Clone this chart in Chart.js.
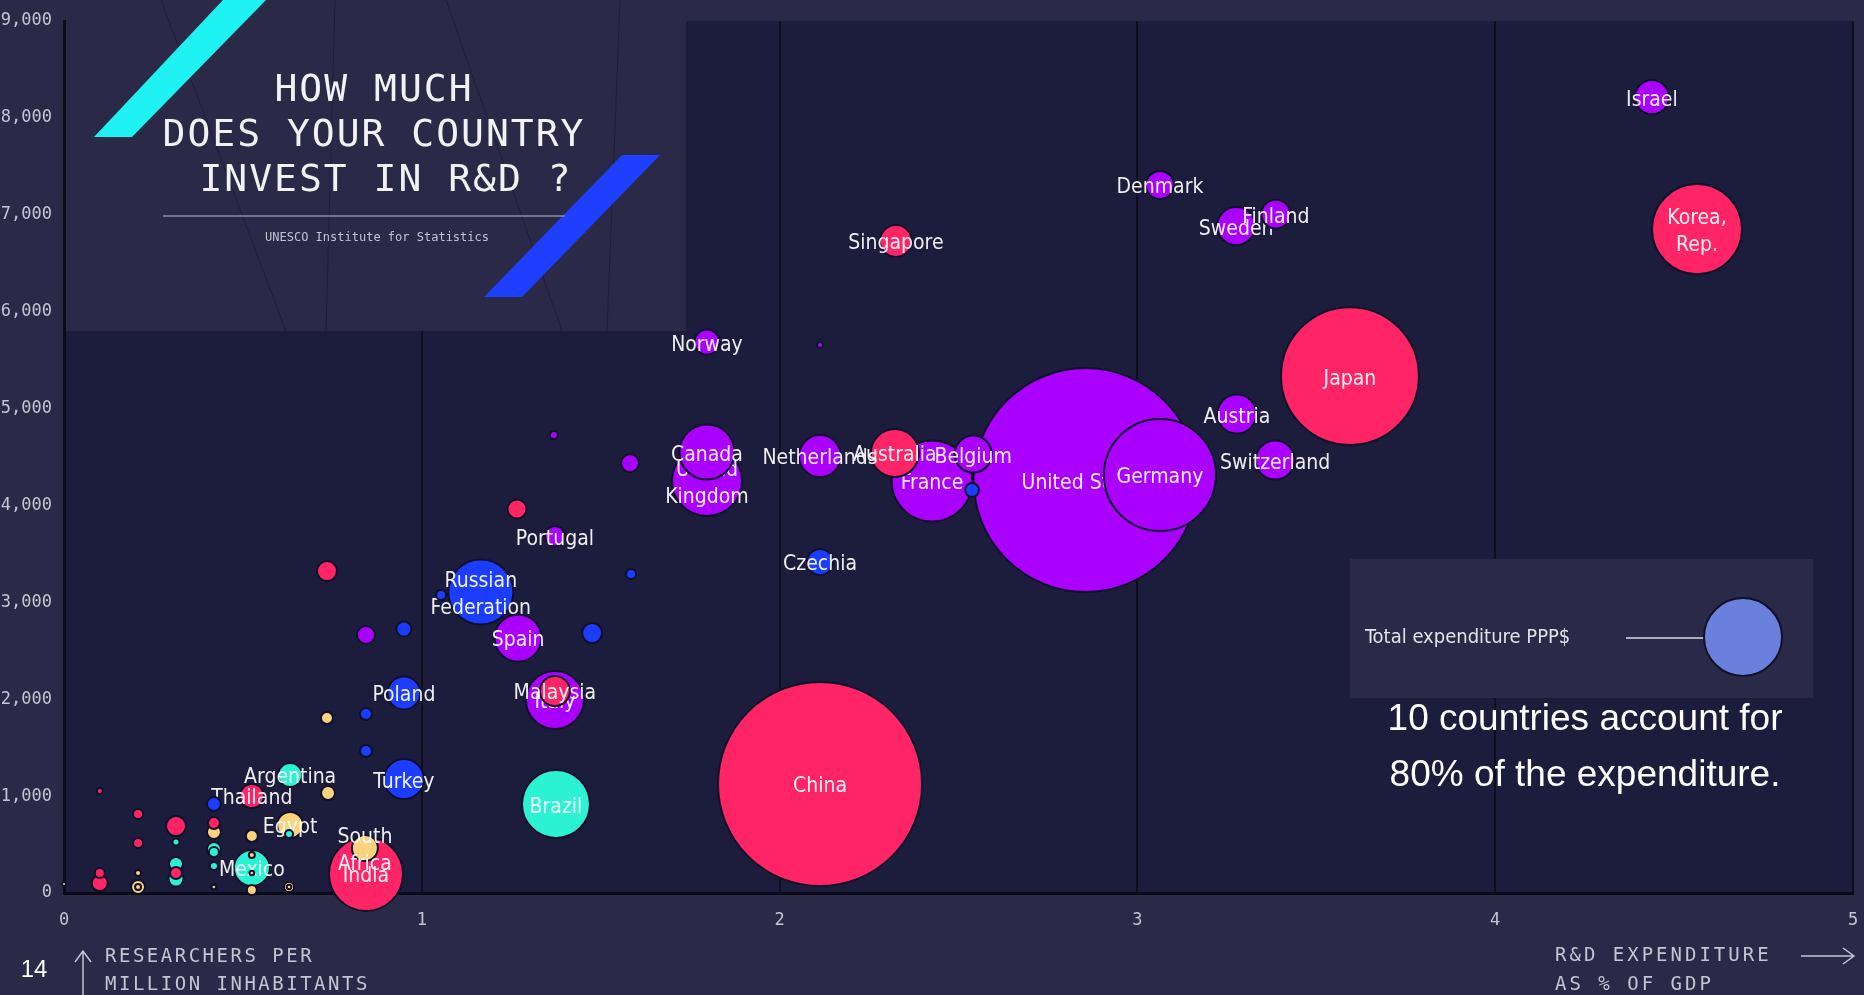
<!DOCTYPE html>
<html>
<head>
<meta charset="utf-8">
<script src="https://cdn.jsdelivr.net/npm/chart.js@4.4.1/dist/chart.umd.min.js"></script>
<style>
  html, body { margin: 0; padding: 0; background: #2a2a48; }
  #wrap { width: 1864px; height: 995px; }
</style>
</head>
<body>
<div id="wrap"><canvas id="rdChart" width="1864" height="995"></canvas></div>
<script>
// one entry per bubble; '' = unlabelled country
const countries = [
  'United States', 'China', 'Japan', 'Germany', 'Korea, Rep.', 'France', 'India', 'United Kingdom',
  'Brazil', 'Russian Federation', 'Italy', 'Canada', 'Australia', 'Spain', 'Netherlands', 'Turkey',
  'Austria', 'Switzerland', 'Sweden', 'Belgium', 'Mexico', 'Israel', 'Poland', 'Singapore',
  'Malaysia', 'Finland', 'Denmark', 'South Africa', 'Egypt', 'Czechia', 'Norway', 'Argentina',
  'Thailand', 'Portugal',
  '', '', '', '', '', '', '', '', '', '', '', '', '', '', '', '',
  '', '', '', '', '', '', '', '', '', '', '', '', '', '', '', '',
  '', '', '', '', '', '', '', '', '', '', ''
];
// R&D expenditure as % of GDP
const gdpShare = [
  2.855, 2.113, 3.594, 3.063, 4.564, 2.426, 0.844, 1.797,
  1.375, 1.165, 1.372, 1.797, 2.322, 1.269, 2.113, 0.950,
  3.278, 3.385, 3.276, 2.541, 0.525, 4.438, 0.950, 2.325,
  1.372, 3.387, 3.063, 0.841, 0.632, 2.113, 1.797, 0.632,
  0.525, 1.372,
  1.266, 0.735, 1.582, 1.369, 2.113, 0.844, 1.585, 1.054, 1.476, 0.950, 2.538, 0.844, 0.844, 0.419, 0.735, 0.738,
  0.100, 0.207, 0.313, 0.419, 0.419, 0.525, 0.629, 0.207, 0.313, 0.419, 0.419, 0.419, 0.313, 0.313, 0.313, 0.100,
  0.100, 0.207, 0.207, 0.207, 0.000, 0.419, 0.525, 0.629, 0.629, 0.525, 0.525, 0.844
];
// researchers per million inhabitants
const researchers = [
  4262, 1125, 5335, 4314, 6852, 4252, 196, 4252,
  918, 3106, 1992, 4551, 4541, 2632, 4510, 1176,
  4943, 4468, 6883, 4530, 258, 8215, 2064, 6729,
  2085, 7007, 7307, 464, 702, 3416, 5686, 1218,
  1001, 3684,
  3963, 3323, 4437, 4726, 5655, 2663, 3292, 3075, 2683, 2724, 4159, 1847, 1465, 918, 1806, 1032,
  1053, 815, 691, 722, 629, 588, 609, 516, 526, 454, 423, 279, 299, 206, 144, 206,
  103, 62, 62, 206, 93, 62, 31, 62, 62, 392, 206, 248
];
// total expenditure, billion PPP$
const spendBn = [
  467, 388, 177, 117, 75.5, 61, 51, 45.7,
  43, 39.4, 31.3, 28.2, 21.5, 20.6, 16.4, 14.9,
  14.2, 14.2, 13.5, 12.8, 12.1, 10.8, 10.1, 9.5,
  8.4, 7.8, 7.3, 6.3, 6.3, 6.3, 5.8, 5.4,
  5.4, 3.7,
  3.4, 3.7, 3.0, 0.6, 0.34, 3.0, 0.93, 0.93, 3.7, 2.1, 1.8, 1.34, 1.34, 1.8, 1.34, 1.8,
  0.34, 0.93, 3.7, 1.34, 1.8, 1.34, 0.6, 0.93, 0.46, 1.8, 0.93, 0.6, 1.8, 1.34, 2.1, 0.93,
  2.4, 1.8, 0.34, 0.34, 0.15, 0.2, 0.93, 0.93, 0.2, 0.34, 0.2, 0.93
];
const regions = [
  'west', 'asia', 'asia', 'west', 'asia', 'west', 'asia', 'west',
  'latam', 'east', 'west', 'west', 'asia', 'west', 'west', 'east',
  'west', 'west', 'west', 'west', 'latam', 'west', 'east', 'asia',
  'asia', 'west', 'west', 'africa', 'africa', 'east', 'west', 'latam',
  'asia', 'west',
  'asia', 'asia', 'west', 'west', 'west', 'west', 'east', 'east', 'east', 'east', 'east', 'east', 'east', 'east', 'africa', 'africa',
  'asia', 'asia', 'asia', 'asia', 'africa', 'africa', 'latam', 'asia', 'latam', 'latam', 'latam', 'latam', 'latam', 'asia', 'latam', 'asia',
  'asia', 'africa', 'africa', 'africa', 'africa', 'africa', 'africa', 'africa', 'africa', 'africa', 'africa', 'africa'
];
const xTicks = [0, 1, 2, 3, 4, 5];
const yTicks = [0, 1000, 2000, 3000, 4000, 5000, 6000, 7000, 8000, 9000];

const regionColors = {
  asia: '#ff2466',
  west: '#a900ff',
  east: '#1c3cff',
  latam: '#2af2d2',
  africa: '#ffd27e'
};
const splitNames = {
  'Russian Federation': ['Russian', 'Federation'],
  'United Kingdom': ['United', 'Kingdom'],
  'Korea, Rep.': ['Korea,', 'Rep.'],
  'South Africa': ['South', 'Africa']
};
const SIZE_K = 5.18; // px radius per sqrt(billion)
const LABEL_FONT = '21px "DejaVu Sans Condensed", "DejaVu Sans", sans-serif';
const MONO = '"DejaVu Sans Mono", monospace';

// biggest drawn first, each label right after its bubble
const drawOrder = countries.map((_, i) => i).sort((a, b) => spendBn[a] - spendBn[b]);
const datasets = drawOrder.map(i => ({
  label: countries[i],
  data: [{ x: gdpShare[i], y: researchers[i], r: Math.sqrt(spendBn[i]) * SIZE_K }],
  backgroundColor: regionColors[regions[i]],
  borderColor: '#10102a',
  borderWidth: 2,
  hoverRadius: 0,
  clip: false
}));

const backdrop = {
  id: 'backdrop',
  beforeDraw(chart) {
    const { ctx, chartArea: a } = chart;
    ctx.save();
    ctx.fillStyle = '#2a2a48';
    ctx.fillRect(0, 0, chart.width, chart.height);
    ctx.fillStyle = '#1c1c3c';
    ctx.fillRect(a.left, a.top, a.right - a.left, a.bottom - a.top);
    ctx.restore();
  },
  beforeDatasetsDraw(chart) {
    const ctx = chart.ctx;
    ctx.save();
    // title panel
    ctx.fillStyle = '#2a2a48';
    ctx.fillRect(66, 0, 620, 331);
    ctx.strokeStyle = 'rgba(12,12,34,0.35)';
    ctx.lineWidth = 1;
    [[161, 286], [335, 326], [446, 562], [620, 607]].forEach(([x0, x1]) => {
      ctx.beginPath(); ctx.moveTo(x0, 0); ctx.lineTo(x1, 331); ctx.stroke();
    });
    ctx.fillStyle = '#1ef2f2';
    ctx.beginPath();
    ctx.moveTo(223, 0); ctx.lineTo(266, 0); ctx.lineTo(132, 137); ctx.lineTo(94, 137); ctx.closePath();
    ctx.fill();
    ctx.fillStyle = '#1f3fff';
    ctx.beginPath();
    ctx.moveTo(622, 155); ctx.lineTo(660, 155); ctx.lineTo(522, 297); ctx.lineTo(484, 297); ctx.closePath();
    ctx.fill();

    ctx.fillStyle = '#f2f2f4';
    ctx.font = '38px ' + MONO;
    ctx.letterSpacing = '2px';
    ctx.textAlign = 'center';
    ctx.textBaseline = 'middle';
    ctx.fillText('HOW MUCH', 374, 91);
    ctx.fillText('DOES YOUR COUNTRY', 374, 136);
    ctx.fillText('INVEST IN R&D ?', 386, 181);
    ctx.letterSpacing = '0px';
    ctx.strokeStyle = '#8a8aa8';
    ctx.lineWidth = 1.5;
    ctx.beginPath(); ctx.moveTo(163, 216); ctx.lineTo(565, 216); ctx.stroke();
    ctx.fillStyle = '#c2c2d2';
    ctx.font = '12px ' + MONO;
    ctx.fillText('UNESCO Institute for Statistics', 377, 238);
    ctx.restore();
  }
};

const bubbleLabels = {
  id: 'bubbleLabels',
  afterDatasetDraw(chart, args) {
    const name = chart.data.datasets[args.index].label;
    if (!name) return;
    const pt = args.meta.data[0];
    const lines = splitNames[name] || [name];
    const ctx = chart.ctx;
    ctx.save();
    ctx.font = LABEL_FONT;
    ctx.fillStyle = 'rgba(255,255,255,0.93)';
    ctx.textAlign = 'center';
    ctx.textBaseline = 'middle';
    const lh = 27;
    const y0 = pt.y + 3 - (lines.length - 1) * lh / 2;
    lines.forEach((t, k) => ctx.fillText(t, pt.x, y0 + k * lh));
    ctx.restore();
  }
};

const extras = {
  id: 'extras',
  afterDraw(chart) {
    const ctx = chart.ctx;
    ctx.save();
    // legend box
    ctx.fillStyle = '#2a2a48';
    ctx.fillRect(1350, 559, 463, 139);
    ctx.font = '20px "DejaVu Sans Condensed", "DejaVu Sans", sans-serif';
    ctx.fillStyle = '#e2e2ec';
    ctx.textAlign = 'left';
    ctx.textBaseline = 'middle';
    ctx.fillText('Total expenditure PPP$', 1365, 638);
    ctx.strokeStyle = '#d8d8e4';
    ctx.lineWidth = 1.5;
    ctx.beginPath(); ctx.moveTo(1626, 638); ctx.lineTo(1704, 638); ctx.stroke();
    ctx.fillStyle = '#6a80dc';
    ctx.strokeStyle = '#10102a';
    ctx.lineWidth = 2;
    ctx.beginPath(); ctx.arc(1743, 637, 39, 0, Math.PI * 2); ctx.fill(); ctx.stroke();

    // annotation
    ctx.fillStyle = '#ffffff';
    ctx.font = '37px "Liberation Sans", Arial, sans-serif';
    ctx.textAlign = 'center';
    ctx.fillText('10 countries account for', 1585, 720);
    ctx.fillText('80% of the expenditure.', 1585, 776);
    ctx.font = '24px "Liberation Sans", Arial, sans-serif';
    ctx.fillText('14', 34, 970);

    // axis titles
    ctx.fillStyle = '#c4c4d4';
    ctx.strokeStyle = '#c4c4d4';
    ctx.lineWidth = 1.5;
    ctx.font = '19px ' + MONO;
    ctx.letterSpacing = '2.5px';
    ctx.textAlign = 'left';
    ctx.fillText('RESEARCHERS PER', 105, 957);
    ctx.fillText('MILLION INHABITANTS', 105, 985);
    ctx.letterSpacing = '3px';
    ctx.fillText('R&D EXPENDITURE', 1555, 956);
    ctx.fillText('AS % OF GDP', 1555, 985);
    ctx.letterSpacing = '0px';
    ctx.beginPath();
    ctx.moveTo(83, 995); ctx.lineTo(83, 951);
    ctx.moveTo(75, 962); ctx.lineTo(83, 951); ctx.lineTo(91, 962);
    ctx.moveTo(1801, 956); ctx.lineTo(1854, 956);
    ctx.moveTo(1843, 948); ctx.lineTo(1854, 956); ctx.lineTo(1843, 964);
    ctx.stroke();
    ctx.restore();
  }
};

new Chart(document.getElementById('rdChart'), {
  type: 'bubble',
  data: { datasets },
  options: {
    responsive: false,
    devicePixelRatio: 1,
    animation: false,
    events: [],
    layout: { autoPadding: false, padding: { top: 21, right: 11, left: 0, bottom: 0 } },
    plugins: { legend: { display: false }, tooltip: { enabled: false } },
    scales: {
      x: {
        type: 'linear', min: 0, max: 5,
        afterFit: s => { s.height = 102; s.paddingLeft = 0; s.paddingRight = 0; },
        afterBuildTicks: s => { s.ticks = xTicks.map(v => ({ value: v })); },
        ticks: { color: '#c4c4d4', font: { family: MONO, size: 17 }, padding: 17 },
        grid: { color: '#0e0e20', lineWidth: 2, drawTicks: false },
        border: { color: '#0b0b1a', width: 3 }
      },
      y: {
        type: 'linear', min: 0, max: 9000,
        afterFit: s => { s.width = 64; s.paddingTop = 0; s.paddingBottom = 0; },
        afterBuildTicks: s => { s.ticks = yTicks.map(v => ({ value: v })); },
        ticks: {
          color: '#c4c4d4', font: { family: MONO, size: 17 }, padding: 12,
          callback: v => v.toLocaleString('en-US')
        },
        grid: { display: false, drawTicks: false },
        border: { display: true, color: '#0b0b1a', width: 3 }
      }
    }
  },
  plugins: [backdrop, bubbleLabels, extras]
});
</script>
</body>
</html>
